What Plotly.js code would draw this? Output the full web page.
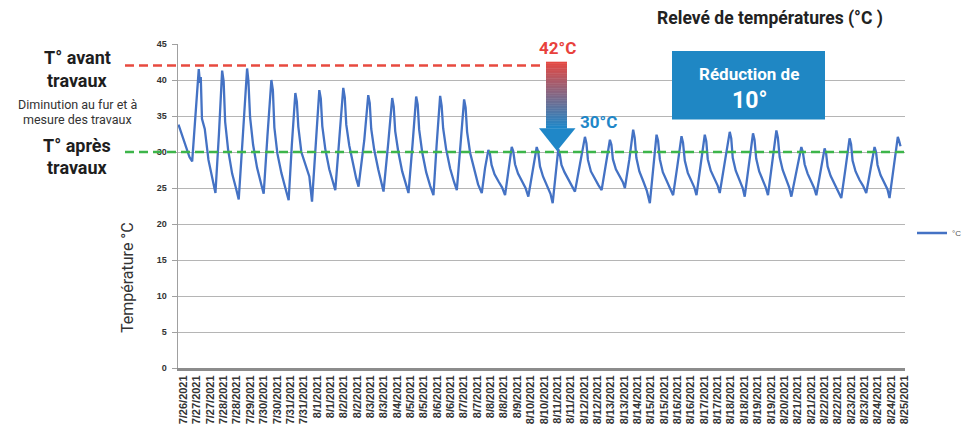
<!DOCTYPE html>
<html>
<head>
<meta charset="utf-8">
<script src="https://cdn.plot.ly/plotly-3.0.1.min.js"></script>
<style>html,body{margin:0;padding:0;background:#fff;}#chart{width:965px;height:430px;}</style>
</head>
<body>
<div id="chart"></div>
<script>
// ---- DATA ----
const seriesName = "°C";
const hours = [
0, 4, 8, 11, 13.7, 17,
20.3, 21.5, 22.3, 23.5, 26.3, 30, 33.5, 37, 40.5,
43.7, 45.2, 46.7, 49.7, 53.7, 57.7, 60.3, 64.5,
68.7, 70, 71.7, 74.7, 78.7, 82.7, 85.3, 89,
93, 94.5, 96, 99, 103, 107, 110.3, 113.5,
117, 118.5, 120, 123, 127, 131, 133.7, 137.5,
141, 142.5, 144, 147, 151, 154.5, 157, 161,
165, 166.5, 168, 171, 175, 178, 180.3, 186,
190, 191.5, 193, 196, 200, 203, 205.3, 210,
214, 215.5, 217, 220, 224, 228, 230.3, 234.5,
238, 239.5, 241, 244, 248, 252, 255.3, 258.5,
262, 263.5, 265, 268, 272, 276, 278.7, 282.5,
286, 287.5, 289, 292, 296, 300, 303.7, 307,
310.3, 311.8, 313.5, 316.5, 320.5, 324, 327, 330.5,
333.7, 335.2, 337, 340, 344, 347.5, 350.3, 354.5,
358.7, 360.2, 362, 365, 369, 372.5, 374.7, 377.5,
380.3, 381.8, 383.5, 386.5, 390.5, 394, 397, 402,
407, 408.5, 410, 413, 417, 420.5, 423.7, 428,
432, 433.5, 435, 438, 442, 445, 447, 451.5,
455.3, 456.8, 458.5, 461.5, 465.5, 469, 472, 475.5,
478.7, 480.2, 482, 485, 489, 492.5, 495.3, 499.5,
503.7, 505.2, 507, 510, 514, 516.5, 518.7, 523,
527, 528.5, 530, 533, 537, 540, 542, 547,
552, 553.5, 555, 558, 562, 565, 567, 571,
575.3, 576.8, 578.5, 581.5, 585.5, 588, 590.3, 594.5,
598.7, 600.2, 602, 605, 609, 611.5, 613.7, 619,
623.7, 625.2, 627, 630, 634, 636.5, 638.7, 643,
647, 648.5, 650, 653, 657, 660.5, 663.7, 668,
672, 673.5, 675, 678, 682, 685.5, 688.7, 693,
697, 698.5, 700, 703, 707, 710, 712, 716.5,
720.3, 721.5, 723
];
const temperatures = [
33.8, 32.1, 30.4, 29.3, 28.7, 35.6,
41.5, 39.6, 40.4, 34.6, 33.2, 28.9, 26.4, 24.3, 32.5,
41.3, 39.8, 34.2, 30.3, 27.0, 24.9, 23.4, 32.4,
41.6, 39.9, 34.8, 31.0, 27.8, 25.6, 24.2, 32.1,
40.0, 38.6, 33.4, 29.8, 27.1, 25.0, 23.3, 31.0,
38.2, 37.0, 33.5, 30.0, 28.2, 26.6, 23.1, 31.5,
38.6, 37.4, 33.6, 30.4, 27.6, 25.9, 24.7, 31.8,
38.9, 37.6, 33.8, 30.9, 28.0, 26.3, 25.2, 31.6,
37.9, 36.8, 33.2, 30.3, 27.6, 25.6, 24.5, 31.2,
37.5, 36.3, 32.9, 30.1, 27.3, 25.4, 24.3, 31.3,
37.7, 36.6, 33.1, 30.0, 27.2, 25.3, 24.0, 31.0,
37.8, 36.4, 33.3, 30.4, 27.7, 25.8, 24.7, 31.2,
37.3, 36.2, 32.8, 29.9, 27.5, 25.5, 24.3, 27.8,
30.3, 29.8, 28.2, 26.9, 25.9, 25.1, 24.0, 27.6,
30.7, 30.1, 28.3, 27.0, 25.8, 25.0, 23.8, 27.5,
30.7, 30.0, 28.0, 26.6, 25.4, 24.2, 22.9, 26.9,
30.4, 29.7, 28.2, 27.2, 26.2, 25.4, 24.5, 28.3,
32.1, 31.2, 28.9, 27.3, 26.2, 25.4, 24.7, 28.2,
31.7, 31.0, 29.0, 27.6, 26.6, 25.8, 25.0, 29.0,
33.1, 32.0, 29.2, 27.3, 25.9, 24.6, 22.9, 27.6,
32.4, 31.6, 29.0, 27.2, 26.0, 25.0, 24.0, 28.0,
32.2, 31.3, 28.8, 27.1, 25.9, 25.1, 24.0, 28.3,
32.4, 31.5, 29.0, 27.4, 26.2, 25.3, 24.3, 28.5,
32.8, 31.9, 29.2, 27.4, 26.0, 25.0, 23.8, 28.3,
32.6, 31.7, 29.1, 27.3, 26.0, 25.1, 24.0, 28.4,
33.0, 32.0, 29.3, 27.5, 26.1, 25.1, 23.8, 27.5,
30.7, 30.0, 28.3, 27.0, 25.9, 25.0, 24.0, 27.4,
30.5, 29.8, 28.0, 26.7, 25.6, 24.7, 23.6, 27.8,
31.9, 31.1, 28.8, 27.3, 26.1, 25.3, 24.3, 27.6,
30.7, 30.0, 28.2, 26.8, 25.6, 24.8, 23.6, 28.0,
32.1, 31.6, 30.8
];
const tickLabels = ["7/26/2021","7/27/2021","7/27/2021","7/28/2021","7/28/2021","7/29/2021","7/30/2021","7/30/2021","7/31/2021","7/31/2021","8/1/2021","8/1/2021","8/2/2021","8/2/2021","8/3/2021","8/3/2021","8/4/2021","8/5/2021","8/5/2021","8/6/2021","8/6/2021","8/7/2021","8/7/2021","8/8/2021","8/8/2021","8/9/2021","8/10/2021","8/10/2021","8/11/2021","8/11/2021","8/12/2021","8/12/2021","8/13/2021","8/13/2021","8/14/2021","8/15/2021","8/15/2021","8/16/2021","8/16/2021","8/17/2021","8/17/2021","8/18/2021","8/18/2021","8/19/2021","8/19/2021","8/20/2021","8/21/2021","8/21/2021","8/22/2021","8/22/2021","8/23/2021","8/23/2021","8/24/2021","8/24/2021","8/25/2021"];
const yTicks = [0, 5, 10, 15, 20, 25, 30, 35, 40, 45];
const tempBefore = 42;
const tempAfter = 30;
const reduction = 10;

// ---- LAYOUT HELPERS ----
const W = 965, H = 430;
const L = 178, R = 905, T = 44, B = 368;
const yMax = 45;
const xMin = -0.5, xMax = 727.5;
const tickStep = 13.37, tickStart = 5;
const px = x => (x - L) / (R - L);
const py = y => (B - y) / (B - T);

const FONT = "Roboto, 'Liberation Sans', sans-serif";

function ann(text, x, y, size, color, weight, extra) {
  return Object.assign({
    text: text, xref: 'paper', yref: 'paper', x: px(x), y: py(y),
    xanchor: 'center', yanchor: 'middle', showarrow: false,
    font: {family: FONT, size: size, color: color, weight: weight}
  }, extra || {});
}

const shapes = [];
// dashed reference lines
shapes.push({type: 'line', xref: 'paper', yref: 'paper', x0: px(125), x1: px(541),
  y0: tempBefore / yMax, y1: tempBefore / yMax,
  line: {color: '#e84a3f', width: 2.5, dash: '9px,5px'}});
shapes.push({type: 'line', xref: 'paper', yref: 'paper', x0: px(125), x1: 1.0,
  y0: tempAfter / yMax, y1: tempAfter / yMax,
  line: {color: '#3db54a', width: 2.5, dash: '9px,5px'}});
// gradient arrow shaft
const shaftTop = 61.7, shaftBot = 128.5, N = 40;
const c0 = [228, 72, 66], c1 = [31, 135, 200];
for (let i = 0; i < N; i++) {
  const f = i / (N - 1);
  const c = c0.map((v, k) => Math.round(v + (c1[k] - v) * f));
  const y0 = shaftTop + (shaftBot - shaftTop) * i / N;
  const y1 = shaftTop + (shaftBot - shaftTop) * (i + 1) / N + 0.4;
  shapes.push({type: 'rect', xref: 'paper', yref: 'paper', x0: px(546), x1: px(567),
    y0: py(y0), y1: py(Math.min(y1, shaftBot)), line: {width: 0},
    fillcolor: 'rgb(' + c.join(',') + ')'});
}
// arrow head
shapes.push({type: 'path', xref: 'paper', yref: 'paper',
  path: 'M ' + px(539) + ' ' + py(128.3) + ' L ' + px(575.5) + ' ' + py(128.3) + ' L ' + px(557) + ' ' + py(151) + ' Z',
  fillcolor: '#1f87c8', line: {width: 0}});
// blue box
shapes.push({type: 'rect', xref: 'paper', yref: 'paper', x0: px(672), x1: px(825),
  y0: py(119.5), y1: py(51), fillcolor: '#1f87c4', line: {width: 0}});

const annotations = [
  ann('T° avant', 77, 58, 18, '#1e1e1e', 'bold'),
  ann('travaux', 77, 81, 18, '#1e1e1e', 'bold'),
  ann('Diminution au fur et à', 77, 104, 12.5, '#333', 'normal'),
  ann('mesure des travaux', 77, 119, 12.5, '#333', 'normal'),
  ann('T° après', 77, 145, 18, '#1e1e1e', 'bold'),
  ann('travaux', 77, 167, 18, '#1e1e1e', 'bold'),
  ann(tempBefore + '°C', 557, 48, 17, '#e8413c', 'bold'),
  ann(tempAfter + '°C', 598, 122, 17, '#1f87c8', 'bold'),
  ann('Réduction de', 749, 74, 17, '#ffffff', 'bold'),
  ann(reduction + '°', 749, 100, 23, '#ffffff', 'bold'),
  ann('Température °C', 127, 278, 16, '#333', 'normal', {textangle: -90})
];

const trace = {
  type: 'scatter', mode: 'lines', name: seriesName,
  x: hours, y: temperatures,
  line: {color: '#4472c4', width: 2.3},
  hoverinfo: 'skip'
};

const layout = {
  width: W, height: H,
  margin: {l: L, r: W - R, t: T, b: H - B, autoexpand: false},
  paper_bgcolor: '#fff', plot_bgcolor: '#fff',
  title: {text: 'Relevé de températures (°C )', x: 770 / W, xanchor: 'center',
    y: 1 - 18 / H, yanchor: 'middle', xref: 'container', yref: 'container',
    font: {family: FONT, size: 17.5, color: '#222', weight: 'bold'}},
  showlegend: true,
  legend: {x: px(912), y: py(233), xanchor: 'left', yanchor: 'middle',
    font: {family: "'Liberation Sans', sans-serif", size: 8, color: '#555'},
    bgcolor: 'rgba(0,0,0,0)', borderwidth: 0, itemwidth: 30},
  xaxis: {
    range: [xMin, xMax], showgrid: false, zeroline: false, automargin: false,
    tickmode: 'array',
    tickvals: tickLabels.map((_, i) => tickStart + i * tickStep),
    ticktext: tickLabels, tickangle: -90,
    tickfont: {family: "'Liberation Sans', Arial, sans-serif", size: 11, color: '#333', weight: 'bold'},
    showline: true, linecolor: '#8c8c8c', linewidth: 3, ticks: '', ticklen: 0
  },
  yaxis: {
    range: [0, yMax], tickmode: 'array', tickvals: yTicks, ticktext: yTicks.map(String),
    showgrid: true, gridcolor: '#b5b5b5', gridwidth: 1, zeroline: false, automargin: false,
    showline: true, linecolor: '#a0a0a0', linewidth: 1.5,
    ticks: 'outside', ticklen: 5, tickcolor: '#a0a0a0', ticklabelstandoff: 3,
    tickfont: {family: "'Liberation Sans', Arial, sans-serif", size: 9, color: '#333', weight: 'bold'}
  },
  shapes: shapes,
  annotations: annotations
};

Plotly.newPlot('chart', [trace], layout, {staticPlot: true, displayModeBar: false});
</script>
</body>
</html>
